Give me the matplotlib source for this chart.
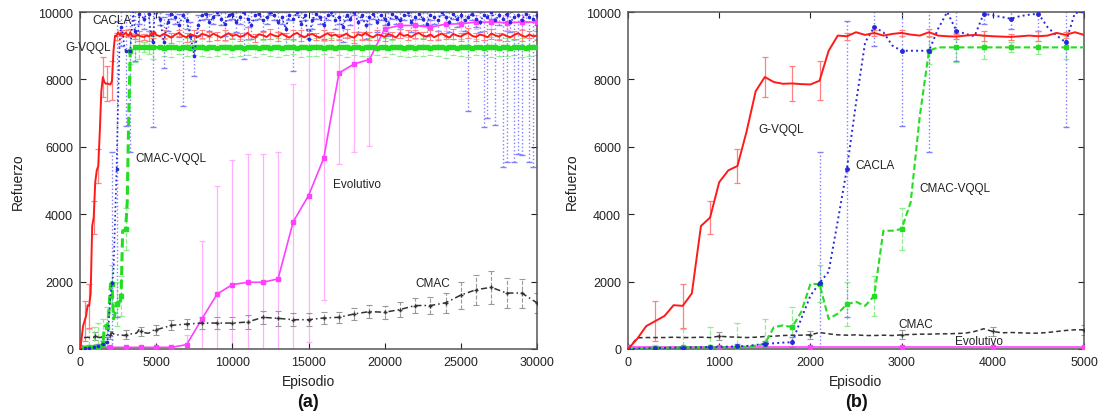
import numpy as np
import matplotlib
matplotlib.use('Agg')
import matplotlib.pyplot as plt

plt.rcParams['font.family'] = ['Liberation Sans', 'DejaVu Sans']

# ---------------- data ----------------
ep_fine = np.arange(0, 5001, 100)          # 0..5000 step 100
ep_err = np.arange(300, 4801, 300)         # error-bar episodes in 0..5000
ep_tail = np.arange(5250, 30001, 250)      # 5250..30000 step 250
ep_tail_err = np.arange(5500, 30001, 500)  # error-bar episodes in tail (red, green)
ep_coarse = np.arange(0, 30001, 1000)      # 0..30000 step 1000
ep_cmac_tail = np.arange(6000, 30001, 1000)

gvqql_fine = [0, 300, 680, 830, 980, 1300, 1280, 1650, 3650, 3900,
              4950, 5300, 5430, 6450, 7650, 8070, 7920, 7870, 7880, 7860,
              7850, 7960, 8850, 9300, 9280, 9400, 9320, 9380, 9300, 9350,
              9380, 9330, 9300, 9400, 9300, 9280, 9270, 9300, 9320, 9300,
              9280, 9270, 9260, 9280, 9300, 9280, 9300, 9380, 9320, 9400,
              9320]
gvqql_err = [600, 650, 500, 500, 590, 520, 580, 100, 80, 100, 100, 80, 150, 80, 150, 80]
gvqql_tail = [9280, 9350, 9300, 9240, 9330, 9380, 9290, 9250, 9340, 9300,
              9260, 9350, 9320, 9270, 9360, 9300, 9240, 9310, 9370, 9290,
              9330, 9260, 9300, 9380, 9280, 9240, 9340, 9310, 9260, 9350,
              9300, 9270, 9360, 9290, 9240, 9330, 9380, 9300, 9250, 9320,
              9350, 9280, 9240, 9310, 9370, 9290, 9330, 9260, 9300, 9360,
              9270, 9240, 9340, 9300, 9380, 9290, 9250, 9330, 9310, 9260,
              9350, 9300, 9240, 9370, 9290, 9320, 9260, 9340, 9380, 9300,
              9270, 9330, 9250, 9310, 9360, 9290, 9240, 9350, 9300, 9270,
              9340, 9380, 9290, 9260, 9330, 9300, 9250, 9360, 9310, 9270,
              9340, 9290, 9250, 9320, 9370, 9300, 9260, 9330, 9280, 9300]
gvqql_tail_err = [120, 150, 100, 130, 160, 110, 140, 120, 150, 100,
                  130, 170, 120, 110, 150, 140, 100, 130, 160, 120,
                  110, 150, 130, 100, 140, 170, 120, 110, 150, 130,
                  100, 140, 160, 120, 110, 150, 130, 100, 140, 120,
                  160, 110, 130, 150, 100, 140, 120, 170, 110, 130]

cacla_fine = [0, 10, 20, 30, 30, 40, 40, 50, 50, 60,
              60, 70, 80, 90, 120, 150, 170, 190, 200, 900,
              1580, 1960, 2290, 3800, 5340, 7300, 9100, 9550, 9400, 9000,
              8850, 8850, 8850, 8850, 9500, 10000, 9450, 9350, 9280, 9950,
              9900, 9850, 9800, 9880, 9920, 9950, 9550, 9300, 9100, 9970,
              10000]
cacla_err = [30, 30, 40, 60, 100, 150, 3900, 4400, 550, 2230, 3000, 900, 300, 300, 500, 2500]
cacla_tail = [9800, 9100, 9700, 9950, 9850, 9600, 9900, 9750, 9300, 8700,
              9600, 9900, 9950, 9700, 9850, 10000, 9800, 9650, 9900, 9950,
              9700, 9850, 10000, 9800, 9600, 9900, 9950, 9750, 9850, 10000,
              9900, 9700, 9850, 9500, 9900, 9800, 10000, 9650, 9900, 9200,
              9750, 9950, 9850, 9600, 9900, 10000, 9750, 9850, 9550, 9900,
              9800, 10000, 9700, 9900, 9600, 9850, 9950, 9700, 9900, 9800,
              9650, 9950, 9850, 9750, 9900, 10000, 9700, 9850, 9950, 9800,
              9650, 9900, 9850, 9750, 10000, 9850, 9700, 9950, 9800, 9900,
              9750, 9850, 9950, 9800, 9700, 9900, 9850, 10000, 9750, 9900,
              9800, 9950, 9700, 9850, 9900, 9750, 9950, 9850, 9800, 9900]
cacla_tail_err = [200, 750, 250, 150, 200, 350, 2700, 250, 400, 600,
                  300, 150, 150, 250, 200, 100, 200, 350, 150, 150,
                  300, 200, 1400, 250, 400, 150, 150, 300, 200, 100,
                  150, 300, 200, 500, 150, 1550, 100, 350, 150, 300,
                  250, 150, 200, 400, 150, 100, 250, 200, 450, 150,
                  200, 100, 300, 150, 400, 200, 150, 300, 150, 200,
                  350, 150, 200, 250, 150, 100, 300, 200, 150, 200,
                  350, 150, 200, 300, 100, 200, 300, 150, 250, 200,
                  300, 2800, 200, 250, 300, 3300, 3000, 200, 3100, 300,
                  4400, 4400, 300, 4300, 4100, 4000, 250, 4300, 4400, 300]

cmacvqql_fine = [0, 20, 30, 40, 40, 40, 50, 50, 50, 50,
                 50, 60, 60, 70, 100, 150, 650, 700, 650, 1100,
                 1930, 1930, 890, 1050, 1330, 1400, 1280, 1580, 3510, 3510,
                 3560, 4360, 6920, 8850, 8950, 8950, 8950, 8950, 8950, 8950,
                 8950, 8950, 8950, 8950, 8950, 8950, 8950, 8950, 8950, 8950,
                 8950]
cmacvqql_err = [80, 550, 600, 700, 750, 600, 550, 650, 600, 620, 400, 420, 330, 150, 200, 350]
cmacvqql_tail = [8950, 8940, 8960, 8950, 8955, 8945, 8950, 8960, 8940, 8950,
                 8955, 8950, 8945, 8960, 8950, 8940, 8955, 8950, 8960, 8945,
                 8950, 8955, 8940, 8950, 8960, 8950, 8945, 8955, 8950, 8940,
                 8960, 8950, 8945, 8950, 8955, 8960, 8940, 8950, 8955, 8945,
                 8950, 8960, 8950, 8940, 8955, 8950, 8945, 8960, 8950, 8955,
                 8940, 8950, 8960, 8945, 8950, 8955, 8950, 8940, 8960, 8950,
                 8945, 8955, 8950, 8960, 8940, 8950, 8955, 8945, 8950, 8960,
                 8950, 8940, 8955, 8950, 8960, 8945, 8950, 8955, 8940, 8950,
                 8960, 8950, 8945, 8955, 8950, 8940, 8960, 8950, 8955, 8945,
                 8950, 8960, 8940, 8950, 8955, 8950, 8945, 8960, 8950, 8950]
cmacvqql_tail_err = [250, 300, 200, 280, 220, 260, 300, 240, 200, 270,
                     250, 230, 300, 210, 260, 280, 240, 220, 300, 250,
                     260, 200, 280, 240, 300, 220, 250, 270, 230, 290,
                     210, 260, 300, 240, 280, 220, 250, 300, 230, 260,
                     280, 240, 220, 300, 250, 270, 230, 290, 260, 240]

cmac_fine = [0, 330, 340, 340, 340, 350, 340, 340, 350, 340,
             380, 360, 350, 340, 350, 370, 380, 400, 410, 410,
             420, 490, 450, 420, 410, 420, 400, 400, 410, 400,
             420, 430, 440, 440, 450, 450, 460, 470, 520, 600,
             520, 480, 490, 480, 470, 470, 490, 520, 550, 570,
             570]
cmac_tail = [700, 740, 770, 770, 770, 800, 940, 910, 870, 870,
             920, 940, 1040, 1110, 1090, 1170, 1290, 1290, 1370, 1600,
             1760, 1830, 1660, 1660, 1370]
cmac_err = [120, 120, 130, 130, 150, 150, 160, 170, 170, 180,
            200, 200, 220, 200, 200, 180, 170, 180, 190, 200,
            210, 230, 250, 300, 400, 450, 490, 450, 430, 300]  # at 1000..30000

evolutivo = [50, 50, 50, 50, 50, 50, 50, 130, 890, 1630,
             1910, 1980, 1980, 2080, 3780, 4550, 5660, 8190, 8460, 8590,
             9500, 9600, 9600, 9550, 9640, 9650, 9700, 9700, 9680, 9700,
             9700]
evolutivo_err = [0, 0, 0, 0, 0, 0, 0, 300, 2320, 3200,
                 3700, 3800, 3800, 3770, 4080, 4350, 4200, 2700, 2600, 2560,
                 500, 200, 200, 200, 200, 200, 200, 200, 200, 200,
                 200]

# ---------------- styling ----------------
C_RED, E_RED = '#ff1a1a', '#ff8080'
C_BLU, E_BLU = '#2828d8', '#8080ff'
C_GRN, E_GRN = '#22dd22', '#90ee90'
C_BLK, E_BLK = '#333333', '#999999'
C_MAG, E_MAG = '#ff40ff', '#ffb0ff'

fig = plt.figure(figsize=(11.05, 4.14), dpi=100)
W, H = 1105.0, 414.0
axA = fig.add_axes([80 / W, 1 - 350 / H, (537 - 80) / W, (350 - 13) / H])
axB = fig.add_axes([628 / W, 1 - 350 / H, (1084 - 628) / W, (350 - 13) / H])


def ebar(ax, x, y, e, color, ls='-', lw=0.8, z=1):
    c = ax.errorbar(x, y, yerr=e, fmt='none', ecolor=color, elinewidth=lw,
                    capsize=2, capthick=lw, zorder=z)
    for lc in c[2]:
        lc.set_linestyle(ls)


def lookup(xs, ys, targets):
    xs = np.asarray(xs)
    ys = np.asarray(ys)
    return np.array([ys[np.where(xs == t)[0][0]] for t in targets])


# combined series
x_full = np.concatenate([ep_fine, ep_tail])
g_full = np.concatenate([gvqql_fine, gvqql_tail])
c_full = np.concatenate([cacla_fine, cacla_tail])
v_full = np.concatenate([cmacvqql_fine, cmacvqql_tail])
x_cmac = np.concatenate([ep_fine, ep_cmac_tail])
m_full = np.concatenate([cmac_fine, cmac_tail])
ep_cmac_err = ep_coarse[1:]

for ax, xmax in ((axA, 30000), (axB, 5000)):
    full = xmax == 30000
    if full:
        xg, yg = x_full, g_full
        xc, yc = x_full, c_full
        xv, yv = x_full, v_full
        xm, ym = x_cmac, m_full
    else:
        xg, yg = ep_fine, np.array(gvqql_fine)
        xc, yc = ep_fine, np.array(cacla_fine)
        xv, yv = ep_fine, np.array(cmacvqql_fine)
        xm, ym = ep_fine, np.array(cmac_fine)
    xe = ep_coarse[ep_coarse <= xmax]
    ye = np.array(evolutivo)[:len(xe)]
    ee = np.array(evolutivo_err)[:len(xe)]

    # evolutivo
    ebar(ax, xe, ye, ee, E_MAG, '-', 0.9, 1)
    ax.plot(xe, ye, '-', color=C_MAG, lw=1.2, marker='s', ms=2.5, zorder=3)

    # CMAC
    sel = ep_cmac_err[ep_cmac_err <= xmax]
    ebar(ax, sel, lookup(xm, ym, sel), np.array(cmac_err)[:len(sel)], E_BLK, '--', 0.8, 2)
    mk = [i for i, v in enumerate(xm) if v % 1000 == 0]
    ax.plot(xm, ym, color=C_BLK, lw=1.1, ls=(0, (4, 2, 1, 2)) if full else (0, (3, 2)),
            marker='+', ms=3, markevery=mk, zorder=4)

    # CMAC-VQQL
    ebar(ax, ep_err, lookup(xv, yv, ep_err), cmacvqql_err, E_GRN, '--', 0.9, 2)
    if full:
        ebar(ax, ep_tail_err, lookup(xv, yv, ep_tail_err), cmacvqql_tail_err, E_GRN, ':', 0.8, 2)
    mk = [i for i, v in enumerate(xv) if (v % 300 == 0 and v <= 5000) or v > 5000]
    ax.plot(xv, yv, color=C_GRN, lw=2.2 if full else 1.5, ls=(0, (3, 1.5)),
            marker='s', ms=2.2 if full else 2.5, markevery=mk, zorder=5)

    # CACLA
    ebar(ax, ep_err, lookup(xc, yc, ep_err), cacla_err, E_BLU, ':', 1.0, 2)
    if full:
        ebar(ax, ep_tail, cacla_tail, cacla_tail_err, E_BLU, ':', 1.0, 2)
    mk = [i for i, v in enumerate(xc) if (v % 300 == 0 and v <= 5000) or v > 5000]
    ax.plot(xc, yc, color=C_BLU, lw=1.2 if full else 1.4, ls=':', marker='o',
            ms=1.6 if full else 2.5, markevery=mk, zorder=6)

    # G-VQQL
    ebar(ax, ep_err, lookup(xg, yg, ep_err), gvqql_err, E_RED, '-', 0.9, 2)
    if full:
        ebar(ax, ep_tail_err, lookup(xg, yg, ep_tail_err), gvqql_tail_err, E_RED, '-', 0.8, 2)
    ax.plot(xg, yg, '-', color=C_RED, lw=1.4, zorder=7)

    ax.set_xlim(0, xmax)
    ax.set_ylim(0, 10000)
    ax.set_xticks(np.arange(0, xmax + 1, xmax // (6 if full else 5)))
    ax.set_yticks(np.arange(0, 10001, 2000))
    ax.tick_params(direction='in', length=4, width=0.8, top=True, right=True,
                   labelsize=9, colors='#222222', pad=5)
    for s in ax.spines.values():
        s.set_color('#555555')
        s.set_linewidth(1.1)

tk = dict(fontsize=8.5, color='#222222', va='center', ha='left', zorder=10)
axA.text(-985, 8960, 'G-VQQL', **tk)
axA.text(790, 9760, 'CACLA', **tk)
axA.text(3610, 5670, 'CMAC-VQQL', **tk)
axA.text(16600, 4900, 'Evolutivo', **tk)
axA.text(22000, 1960, 'CMAC', **tk)

axB.text(1425, 6530, 'G-VQQL', **tk)
axB.text(2490, 5470, 'CACLA', **tk)
axB.text(3200, 4780, 'CMAC-VQQL', **tk)
axB.text(2970, 740, 'CMAC', **tk)
axB.text(3590, 250, 'Evolutivo', **tk)

for cx, ylx, lab in ((308.5, 18, '(a)'), (856, 572, '(b)')):
    fig.text(cx / W, 1 - 382 / H, 'Episodio', ha='center', va='center',
             fontsize=10, color='#222222')
    fig.text(cx / W, 1 - 403 / H, lab, ha='center', va='center',
             fontsize=13, fontweight='bold', color='#111111')
    fig.text(ylx / W, 1 - 182 / H, 'Refuerzo', ha='center', va='center',
             rotation=90, fontsize=10, color='#222222')

fig.savefig('out.png', dpi=100)
